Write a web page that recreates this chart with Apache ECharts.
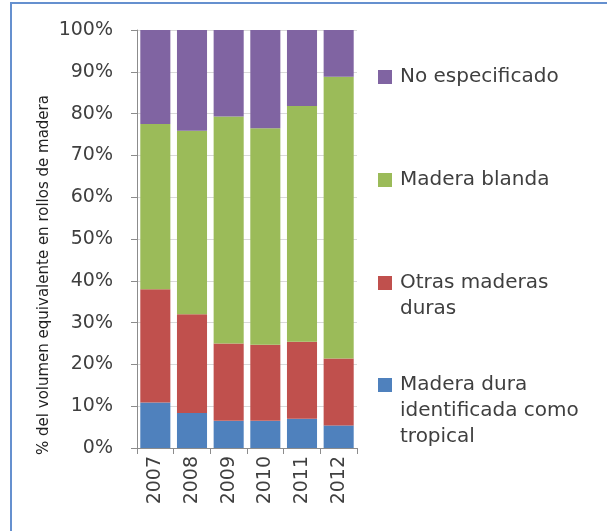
<!DOCTYPE html>
<html>
<head>
<meta charset="utf-8">
<script src="https://cdn.jsdelivr.net/npm/echarts@6/dist/echarts.min.js"></script>
<style>
html,body{margin:0;padding:0;background:#fff;}
#chart{width:607px;height:531px;}
</style>
</head>
<body>
<div id="chart"></div>
<script>
var years = ['2007', '2008', '2009', '2010', '2011', '2012'];
var tropical = [10.9, 8.4, 6.5, 6.5, 7.0, 5.4];
var otrasDuras = [27.1, 23.6, 18.5, 18.2, 18.4, 16.0];
var blanda = [39.5, 43.9, 54.3, 51.8, 56.4, 67.4];
var noEspecificado = [22.5, 24.1, 20.7, 23.5, 18.2, 11.2];

var nameTropical = 'Madera dura identificada como tropical';
var nameOtras = 'Otras maderas duras';
var nameBlanda = 'Madera blanda';
var nameNo = 'No especificado';

var FONT = 'DejaVu Sans';
var TXT = '#3f3f3f';
var AX = '#8c8c8c';

// label lines; leading blank lines keep the icon level with the first line
function legendAt(name, top, lines) {
  var pre = '';
  for (var i = 1; i < lines.length; i++) pre += '\n';
  var label = pre + lines.join('\n');
  return {
    data: [name],
    left: 378,
    top: top,
    padding: 0,
    icon: 'rect',
    itemWidth: 14,
    itemHeight: 14,
    selectedMode: false,
    formatter: function () { return label; },
    textStyle: {
      fontFamily: FONT,
      fontSize: 20,
      color: TXT,
      lineHeight: 26,
      padding: [0, 0, 0, 3]
    }
  };
}

var chart = echarts.init(document.getElementById('chart'));
chart.setOption({
  animation: false,
  backgroundColor: '#fff',
  graphic: [{
    type: 'rect',
    shape: { x: 11, y: 3, width: 700, height: 600 },
    style: { fill: 'none', stroke: '#6590cf', lineWidth: 2 },
    silent: true
  }],
  grid: { left: 137, right: 250, top: 30, bottom: 83 },
  legend: [
    legendAt(nameNo, 64, ['No especificado']),
    legendAt(nameBlanda, 167, ['Madera blanda']),
    legendAt(nameOtras, 244, ['Otras maderas', 'duras']),
    legendAt(nameTropical, 320, ['Madera dura', 'identificada como', 'tropical'])
  ],
  xAxis: {
    type: 'category',
    data: years,
    axisLine: { show: true, lineStyle: { color: AX } },
    axisTick: { show: true, length: 6, interval: 0, lineStyle: { color: AX } },
    axisLabel: { rotate: 90, margin: 8, fontFamily: FONT, fontSize: 19, color: TXT, interval: 0 }
  },
  yAxis: {
    type: 'value',
    min: 0,
    max: 100,
    interval: 10,
    name: '% del volumen equivalente en rollos de madera',
    nameLocation: 'middle',
    nameGap: 85,
    nameTextStyle: { fontFamily: FONT, fontSize: 15, color: '#222', padding: [0, 72, 0, 0] },
    axisLine: { show: true, lineStyle: { color: AX } },
    axisTick: { show: true, length: 6, lineStyle: { color: AX } },
    splitLine: { show: true, lineStyle: { color: '#d9d9d9' } },
    axisLabel: { formatter: '{value}%', margin: 24, fontFamily: FONT, fontSize: 19, color: TXT }
  },
  series: [
    { name: nameTropical, type: 'bar', stack: 'a', data: tropical, barWidth: '82%', itemStyle: { color: '#4f81bd' } },
    { name: nameOtras, type: 'bar', stack: 'a', data: otrasDuras, itemStyle: { color: '#c0504d' } },
    { name: nameBlanda, type: 'bar', stack: 'a', data: blanda, itemStyle: { color: '#9bbb59' } },
    { name: nameNo, type: 'bar', stack: 'a', data: noEspecificado, itemStyle: { color: '#8064a2' } }
  ]
});
</script>
</body>
</html>
